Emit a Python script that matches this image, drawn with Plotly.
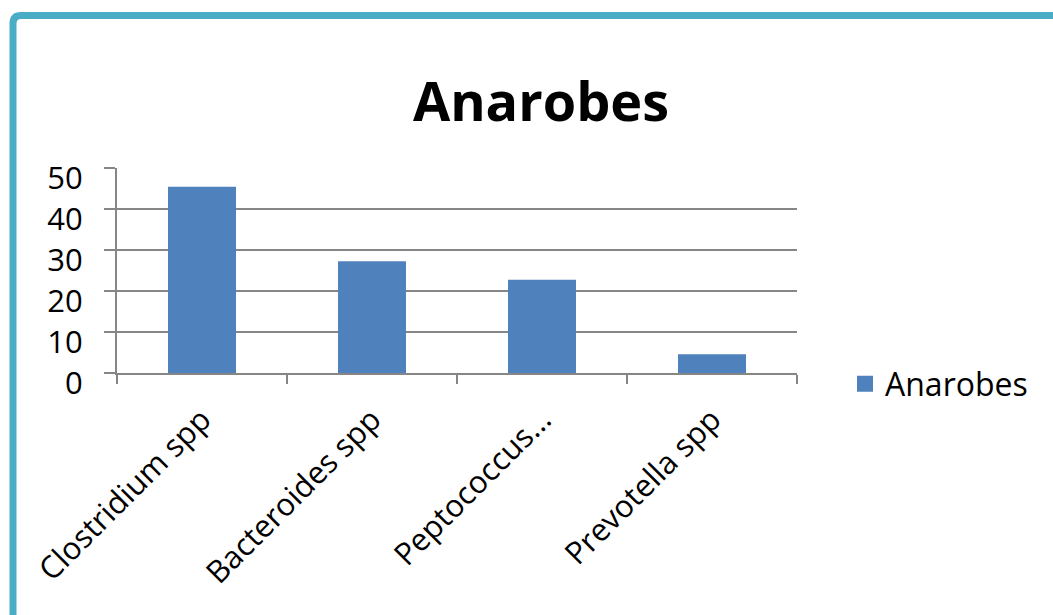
import plotly.graph_objects as go

categories = ["Clostridium spp", "Bacteroides spp", "Peptococcus...", "Prevotella spp"]
values = [45.45, 27.27, 22.73, 4.55]
series_name = "Anarobes"
y_tick_vals = [0, 10, 20, 30, 40, 50]

W, H = 1053, 615
ML, MR, MT, MB = 117, 256, 168, 242
PW, PH = W - ML - MR, H - MT - MB

BAR_COLOR = "#4F81BD"
GRID = "#868686"
FONT = "Open Sans"

def px_x(px):
    return (px - ML) / PW

def px_y(py):
    return (H - MB - py) / PH

fig = go.Figure()
fig.add_trace(go.Bar(
    x=categories, y=values, name=series_name,
    marker=dict(color=BAR_COLOR, line=dict(width=0)),
    width=0.4, showlegend=False,
))
# legend proxy (larger square swatch)
fig.add_trace(go.Scatter(
    x=[None], y=[None], mode="markers", name=series_name,
    marker=dict(symbol="square", size=16, color=BAR_COLOR),
    showlegend=True,
))

# decorative frame (teal border at top/left)
r = 8
path = (f"M {px_x(13)},{px_y(650)} L {px_x(13)},{px_y(15.5 + r)} "
        f"Q {px_x(13)},{px_y(15.5)} {px_x(13 + r)},{px_y(15.5)} "
        f"L {px_x(1080)},{px_y(15.5)}")
fig.add_shape(type="path", path=path, xref="paper", yref="paper",
              line=dict(color="#4BACC6", width=7), layer="above")

fig.update_layout(
    width=W, height=H,
    margin=dict(l=ML, r=MR, t=MT, b=MB, pad=0),
    paper_bgcolor="white", plot_bgcolor="white",
    font=dict(family=FONT, color="#000000"),
    title=dict(text="<b>Anarobes</b>", x=541 / W, xref="container", xanchor="center",
               y=1 - 102 / H, yref="container", yanchor="middle",
               font=dict(family=FONT, size=54, color="#000000")),
    legend=dict(x=px_x(845), y=px_y(384), xanchor="left", yanchor="middle",
                font=dict(family=FONT, size=32, color="#000000"),
                bgcolor="rgba(0,0,0,0)"),
    bargap=0.6,
)
fig.update_xaxes(
    type="category", tickson="boundaries", ticks="outside", ticklen=9,
    tickwidth=2, tickcolor=GRID, showline=True, linecolor=GRID, linewidth=2,
    showgrid=False, tickangle=-45, tickfont=dict(family=FONT, size=31, color="#000000"),
    ticklabelstandoff=14,
)
fig.update_yaxes(
    range=[0, 50], tickvals=y_tick_vals, ticks="outside", ticklen=11, tickwidth=2,
    tickcolor=GRID, showline=True, linecolor=GRID, linewidth=2,
    showgrid=True, gridcolor=GRID, gridwidth=2, zeroline=False,
    tickfont=dict(family=FONT, size=31, color="#000000"),
    ticklabelstandoff=15, ticklabelshift=10,
)

fig.write_html("out.html")
